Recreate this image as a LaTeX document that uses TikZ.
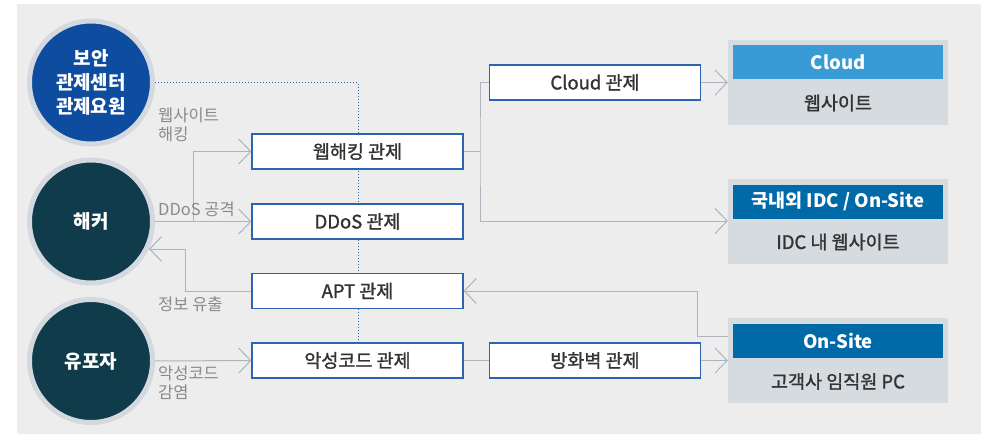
\documentclass[tikz,border=0pt]{standalone}
\usepackage{fontspec}
\setmainfont{Noto Sans CJK KR}
\newfontfamily\krmid{Noto Sans CJK KR}[FakeBold=1.3]
\usepackage{tikz}
\usetikzlibrary{arrows.meta,positioning,calc}
\definecolor{bggray}   {HTML}{EDEDED}
\definecolor{secblue}  {HTML}{0D4C9F}
\definecolor{darkteal} {HTML}{0F3B4B}
\definecolor{ringgray} {HTML}{D3D9DE}
\definecolor{boxblue}  {HTML}{2E63B2}
\definecolor{conngray} {HTML}{AEB4BE}
\definecolor{lblgray}  {HTML}{8A8A8A}
\definecolor{sitegray} {HTML}{D6DBDF}
\definecolor{cloudblue}{HTML}{399BD6}
\definecolor{idcblue}  {HTML}{006AA9}
\definecolor{txtdark}  {HTML}{333333}

\begin{document}
\begin{tikzpicture}[x=1pt,y=-1pt,
  actor/.style={circle,draw=ringgray,line width=5pt,minimum size=123pt,
                inner sep=0pt,align=center,text=white,
                font=\fontsize{19}{24}\selectfont\bfseries},
  ctrl/.style={draw=boxblue,fill=white,line width=1.2pt,
               minimum width=211pt,minimum height=35pt,inner sep=0pt,
               text=txtdark,font=\krmid\fontsize{18.5}{20}\selectfont},
  site/.style={fill=sitegray,minimum width=220pt,minimum height=85pt,inner sep=0pt},
  hd/.style={minimum width=210pt,minimum height=34pt,inner sep=0pt,
             text=white,font=\fontsize{18.5}{20}\selectfont\bfseries},
  body/.style={text=txtdark,font=\krmid\fontsize{18.5}{20}\selectfont},
  lbl/.style={text=lblgray,align=left,anchor=west,inner sep=0pt,
              font=\fontsize{16.5}{19}\selectfont},
  conn/.style={draw=conngray,line width=1pt},
  arr/.style={conn,-{Straight Barb[length=12pt,width=25pt]}},
  ctl/.style={draw=boxblue,line width=1pt,dotted}
]
\useasboundingbox (0,0) rectangle (989,434);
\fill[bggray] (17,4) rectangle (981,434);

% actors
\node[actor,fill=secblue]  (sec)      at (91,82.5)  {보안\\관제센터\\관제요원};
\node[actor,fill=darkteal] (hacker)   at (91,221.5) {해커};
\node[actor,fill=darkteal] (spreader) at (91,361)   {유포자};

% control line of the security staff
\coordinate (tap) at (358,82.5);
\draw[ctl] (sec.east) -- (tap) -- (358,343);

% monitoring boxes
\node[ctrl] (webhack)  at (357.5,151.5) {웹해킹 관제};
\node[ctrl] (ddos)     at (357.5,221.5) {DDoS 관제};
\node[ctrl] (apt)      at (357.5,291)   {APT 관제};
\node[ctrl] (malware)  at (357.5,360.5) {악성코드 관제};
\node[ctrl] (cloudctl) at (595,82.5)    {Cloud 관제};
\node[ctrl] (fw)       at (595,360.5)   {방화벽 관제};

% targets
\node[site] (cloud)  at (838,82.5)  {};
\node[hd,fill=cloudblue] (cloudhd)  at (838,62)    {Cloud};
\node[body] at (838,103) {웹사이트};
\node[site] (idc)    at (838,221)   {};
\node[hd,fill=idcblue]   (idchd)    at (838,201.5) {국내외 IDC / On-Site};
\node[body] at (838,242) {IDC 내 웹사이트};
\node[site] (onsite) at (838,360.5) {};
\node[hd,fill=idcblue]   (onsitehd) at (838,340.5) {On-Site};
\node[body] at (838,381.5) {고객사 임직원 PC};

% attacks
\coordinate (split) at (193,221.5);
\coordinate (leak)  at (185,249);
\draw[arr] (hacker.east) -- (ddos.west);
\draw[arr] (split) |- (webhack.west);
\draw[arr] (apt.west) -| (leak) -- (leak -| hacker.25);
\draw[arr] (spreader.east) -- (malware.west);

\node[lbl] at (158,125) {웹사이트\\해킹};
\node[lbl] at (158,209) {DDoS 공격};
\node[lbl] at (158,304) {정보 유출};
\node[lbl] at (158,383) {악성코드\\감염};

% monitoring flows
\coordinate (fork) at (480,151.5);
\draw[conn] (webhack.east) -- (fork);
\draw[arr] (cloudctl.west) -| (fork) |- (idc.west);
\draw[arr] (cloudctl.east) -- (cloud.west);
\draw[conn] (malware.east) -- (fw.west);
\draw[arr] (fw.east) -- (onsite.west);
\draw[arr] ([yshift=24.5pt]onsite.west) -- ++(-30,0) |- (apt.east);
\end{tikzpicture}
\end{document}
